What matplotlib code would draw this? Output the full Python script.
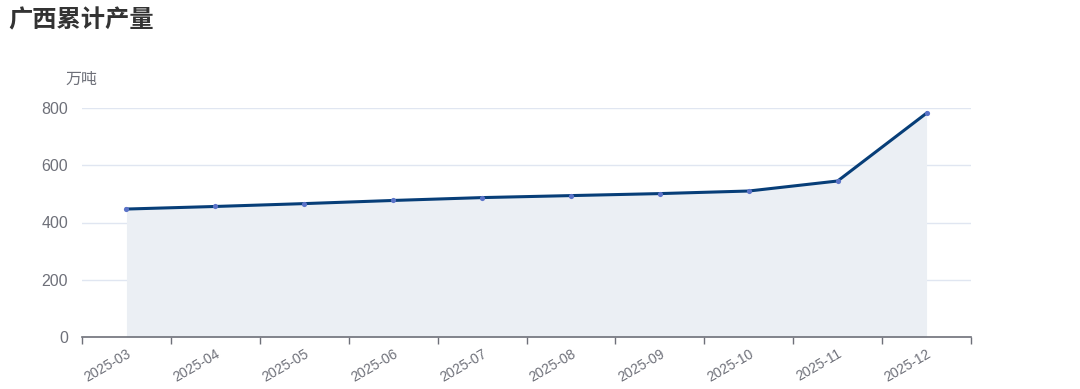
import matplotlib.pyplot as plt
import numpy as np

plt.rcParams['font.family'] = ['Noto Sans CJK SC', 'DejaVu Sans']

months = ['2025-03', '2025-04', '2025-05', '2025-06', '2025-07',
          '2025-08', '2025-09', '2025-10', '2025-11', '2025-12']
output = [447, 456, 466, 477, 487, 494, 501, 510, 545, 782]

fig = plt.figure(figsize=(10.8, 3.89), dpi=100)
ax = fig.add_axes([82/1080, 1-337/389, (971-82)/1080, (337-108)/389])

x = np.arange(len(months))
ax.fill_between(x, output, 0, color='#ebeff4', lw=0, zorder=1)
ax.plot(x, output, color='#073e78', lw=2.2, zorder=3)
ax.scatter(x, output, s=14, color='#5b73c8', zorder=4, lw=0)

ax.set_xlim(-0.5, len(months) - 0.5)
ax.set_ylim(0, 800)
ax.set_yticks([0, 200, 400, 600, 800])
ax.grid(axis='y', color='#e0e6f1', lw=1, zorder=0)
ax.set_axisbelow(True)

ax.set_xticks(x)
ax.set_xticklabels(months, rotation=30, ha='right', rotation_mode='anchor',
                   fontsize=10, color='#6e7079', family='Liberation Sans')
ax.set_xticks(np.arange(-0.5, len(months)), minor=True)
ax.tick_params(axis='x', which='major', length=0, pad=7)
ax.tick_params(axis='x', which='minor', length=5, color='#6e7079', width=1)
ax.tick_params(axis='y', length=0, labelsize=11.5, labelcolor='#6e7079', pad=10)
for t in ax.get_yticklabels():
    t.set_family('Liberation Sans')

for s in ['top', 'right', 'left']:
    ax.spines[s].set_visible(False)
ax.spines['bottom'].set_color('#6e7079')
ax.spines['bottom'].set_linewidth(1.2)

fig.text(8/1080, 1-20/389, '广西累计产量', fontsize=17.5, fontweight='bold',
         color='#333333', va='center', ha='left')
fig.text(81/1080, 1-79/389, '万吨', fontsize=11.5, color='#6e7079',
         va='center', ha='center')

fig.savefig('out.png', dpi=100)
